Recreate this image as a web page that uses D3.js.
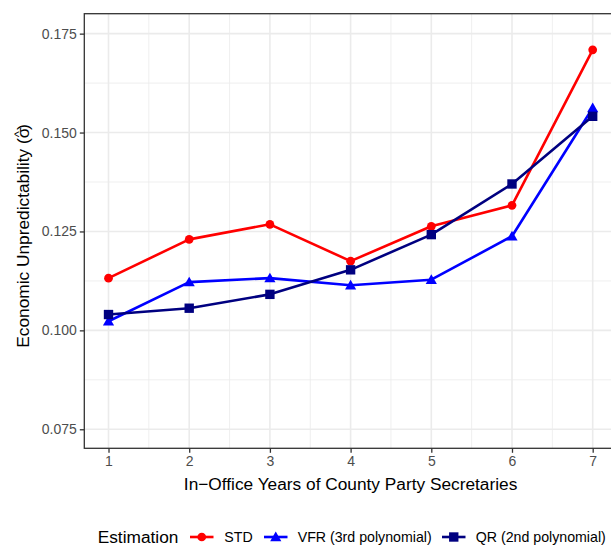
<!DOCTYPE html>
<html>
<head>
<meta charset="utf-8">
<script src="https://cdn.jsdelivr.net/npm/d3@7"></script>
<style>
  html, body { margin: 0; padding: 0; background: #fff; }
  svg { display: block; font-family: "Liberation Sans", Arial, Helvetica, sans-serif; }
</style>
</head>
<body>
<svg id="chart" width="611" height="547"></svg>
<script>
// Years in office of county party secretaries
const years = [1, 2, 3, 4, 5, 6, 7];

// Estimated economic unpredictability (sigma hat) by estimation method
const stdValues = [0.1132, 0.1230, 0.1268, 0.1175, 0.1263, 0.1316, 0.1709];
const vfrValues = [0.1023, 0.1122, 0.1132, 0.1114, 0.1128, 0.1238, 0.1562];
const qrValues  = [0.1040, 0.1056, 0.1091, 0.1153, 0.1242, 0.1370, 0.1541];

const seriesNames = ["STD", "VFR (3rd polynomial)", "QR (2nd polynomial)"];
const seriesColors = ["#FF0000", "#0000FF", "#000080"];
const seriesShapes = ["circle", "triangle", "square"];

const yTicks = [0.075, 0.100, 0.125, 0.150, 0.175];
const yMinor = [0.0875, 0.1125, 0.1375, 0.1625];
const xMinor = [1.5, 2.5, 3.5, 4.5, 5.5, 6.5];

const series = seriesNames.map((name, i) => ({
  name,
  color: seriesColors[i],
  shape: seriesShapes[i],
  values: [stdValues, vfrValues, qrValues][i].map((v, j) => ({ x: years[j], y: v }))
}));

const svg = d3.select("#chart");
const panel = { left: 84.3, right: 616.9, top: 13.7, bottom: 448.3 };

const x = d3.scaleLinear().domain([0.7, 7.3]).range([panel.left, panel.right]);
const y = d3.scaleLinear().domain([0.07019, 0.18004]).range([panel.bottom, panel.top]);

const g = svg.append("g");

// grid
const grid = g.append("g");
grid.selectAll("line.ymin").data(yMinor).join("line")
  .attr("x1", panel.left).attr("x2", panel.right)
  .attr("y1", d => y(d)).attr("y2", d => y(d))
  .attr("stroke", "#EBEBEB").attr("stroke-width", 0.8);
grid.selectAll("line.xmin").data(xMinor).join("line")
  .attr("y1", panel.top).attr("y2", panel.bottom)
  .attr("x1", d => x(d)).attr("x2", d => x(d))
  .attr("stroke", "#EBEBEB").attr("stroke-width", 0.8);
grid.selectAll("line.ymaj").data(yTicks).join("line")
  .attr("x1", panel.left).attr("x2", panel.right)
  .attr("y1", d => y(d)).attr("y2", d => y(d))
  .attr("stroke", "#EBEBEB").attr("stroke-width", 1.6);
grid.selectAll("line.xmaj").data(years).join("line")
  .attr("y1", panel.top).attr("y2", panel.bottom)
  .attr("x1", d => x(d)).attr("x2", d => x(d))
  .attr("stroke", "#EBEBEB").attr("stroke-width", 1.6);

// lines
const line = d3.line().x(d => x(d.x)).y(d => y(d.y));
g.append("g").selectAll("path").data(series).join("path")
  .attr("d", d => line(d.values))
  .attr("fill", "none")
  .attr("stroke", d => d.color)
  .attr("stroke-width", 2.6)
  .attr("stroke-linejoin", "round");

const symbolFor = shape => {
  if (shape === "circle") return d3.symbol(d3.symbolCircle, 60)();
  if (shape === "triangle") return d3.symbol(d3.symbolTriangle, 54)();
  return d3.symbol(d3.symbolSquare, 88)();
};

// points
series.forEach(s => {
  g.append("g").selectAll("path").data(s.values).join("path")
    .attr("d", symbolFor(s.shape))
    .attr("transform", d => `translate(${x(d.x)},${y(d.y) + (s.shape === "triangle" ? 1 : 0)})`)
    .attr("fill", s.color);
});

// panel border
g.append("rect")
  .attr("x", panel.left).attr("y", panel.top)
  .attr("width", panel.right - panel.left).attr("height", panel.bottom - panel.top)
  .attr("fill", "none").attr("stroke", "#333333").attr("stroke-width", 1.3);

// axes
const xAxis = d3.axisBottom(x).tickValues(years).tickFormat(d3.format("d")).tickSize(4.5).tickPadding(3);
const yAxis = d3.axisLeft(y).tickValues(yTicks).tickFormat(d3.format(".3f")).tickSize(4.5).tickPadding(3);

const gx = svg.append("g").attr("transform", `translate(0,${panel.bottom})`).call(xAxis);
const gy = svg.append("g").attr("transform", `translate(${panel.left},0)`).call(yAxis);
[gx, gy].forEach(a => {
  a.select(".domain").remove();
  a.selectAll(".tick line").attr("stroke", "#333333").attr("stroke-width", 1.3);
  a.selectAll(".tick text").attr("fill", "#4D4D4D").style("font-size", "14px")
    .style("font-family", "'Liberation Sans', Arial, sans-serif");
});

// axis titles
svg.append("text")
  .attr("x", (panel.left + panel.right) / 2).attr("y", 490)
  .attr("text-anchor", "middle").style("font-size", "17.3px").attr("fill", "#000")
  .text("In\u2212Office Years of County Party Secretaries");

const yt = svg.append("text")
  .attr("transform", `translate(29,${(panel.top + panel.bottom) / 2 + 5}) rotate(-90)`)
  .attr("text-anchor", "middle").style("font-size", "17.3px").attr("fill", "#000");
yt.append("tspan").text("Economic Unpredictability (");
yt.append("tspan").text("\u03C3");
yt.append("tspan").attr("dx", -9.5).attr("dy", -6).style("font-size", "13px").text("^");
yt.append("tspan").attr("dx", 1).attr("dy", 6).text(")");

// legend
const legendY = 537;
svg.append("text").attr("x", 97.7).attr("y", legendY + 6)
  .style("font-size", "17.3px").attr("fill", "#000").text("Estimation");

const keyX = [190, 264, 442];
const labelX = [224.3, 297.7, 475.7];
series.forEach((s, i) => {
  const k = svg.append("g");
  k.append("line").attr("x1", keyX[i]).attr("x2", keyX[i] + 23.5)
    .attr("y1", legendY).attr("y2", legendY)
    .attr("stroke", s.color).attr("stroke-width", 2.6);
  k.append("path").attr("d", symbolFor(s.shape))
    .attr("transform", `translate(${keyX[i] + 11.75},${legendY + (s.shape === "triangle" ? 1 : 0)})`)
    .attr("fill", s.color);
  svg.append("text").attr("x", labelX[i]).attr("y", legendY + 5)
    .style("font-size", "14.2px").attr("fill", "#000").text(s.name);
});
</script>
</body>
</html>
